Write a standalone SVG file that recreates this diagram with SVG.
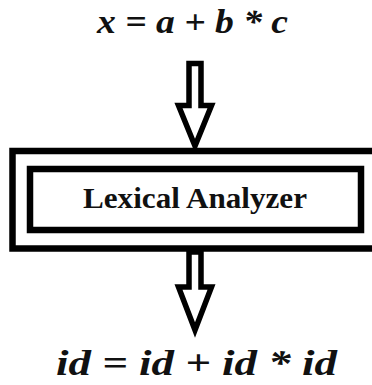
<svg xmlns="http://www.w3.org/2000/svg" width="372" height="385" viewBox="0 0 372 385">
<style>
.box{fill:none;stroke:#000;stroke-width:6.5}
.arrow{fill:#fff;stroke:#000;stroke-width:5.5;stroke-linejoin:miter}
.expr{font-family:"Liberation Serif","DejaVu Serif",serif;font-weight:bold;font-style:italic;fill:#111}
.lbl{font-family:"Liberation Serif","DejaVu Serif",serif;font-weight:bold;fill:#111}
</style>
<rect width="372" height="385" fill="#fff"/>
<g id="input">
<text class="expr" x="97" y="33" font-size="34" textLength="191" lengthAdjust="spacingAndGlyphs">x = a + b * c</text>
</g>
<g id="lexical-analyzer">
<rect class="box" x="12.5" y="151" width="372" height="97.5"/>
<rect class="box" x="30" y="169" width="331" height="61"/>
<text class="lbl" x="83" y="208" font-size="30" textLength="224" lengthAdjust="spacingAndGlyphs">Lexical Analyzer</text>
</g>
<g id="output">
<text class="expr" x="56" y="375" font-size="36" textLength="281" lengthAdjust="spacingAndGlyphs">id = id + id * id</text>
</g>
<g id="connectors">
<polygon class="arrow" points="189,63.5 201,63.5 201,105.5 211.5,105.5 195,146 178.5,105.5 189,105.5"/>
<polygon class="arrow" points="189,252 201,252 201,287 211.5,287 195,330 178.5,287 189,287"/>
</g>
</svg>
